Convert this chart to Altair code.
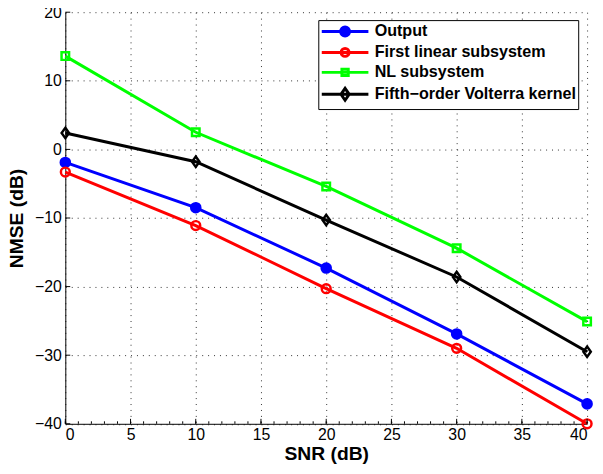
import altair as alt
import pandas as pd

snr = [0, 10, 20, 30, 40]
series_names = ["Output", "First linear subsystem", "NL subsystem",
                "Fifth\u2212order Volterra kernel"]
output_vals = [-1.9, -8.5, -17.3, -26.9, -37.1]
first_linear_vals = [-3.3, -11.1, -20.3, -29.0, -40.0]
nl_vals = [13.6, 2.5, -5.4, -14.4, -25.1]
fifth_vals = [2.4, -1.8, -10.3, -18.6, -29.5]

x_major = [0, 5, 10, 15, 20, 25, 30, 35, 40]
x_minor = [0, 1, 2, 3, 4, 5, 6, 7, 8, 9, 10, 11, 12, 13, 14, 15, 16, 17, 18, 19, 20,
           21, 22, 23, 24, 25, 26, 27, 28, 29, 30, 31, 32, 33, 34, 35, 36, 37, 38, 39, 40]
y_major = [-40, -30, -20, -10, 0, 10, 20]

colors = ["#0000ff", "#ff0000", "#00ff00", "#000000"]
fills = ["#0000ff", "transparent", "transparent", "transparent"]
plot_shapes = ["circle", "circle", "square", "M0,-1.4L1,0L0,1.4L-1,0Z"]
plot_sizes = [85, 80, 58, 56]
# legend glyphs: a line segment with the series marker in its middle (unit = 8 px)
legend_shapes = [
    "M-1,0L4.9,0M2.51,0A0.56,0.56,0,1,1,1.39,0A0.56,0.56,0,1,1,2.51,0Z",
    "M-1,0L4.9,0M2.45,0A0.5,0.5,0,1,1,1.45,0A0.5,0.5,0,1,1,2.45,0Z",
    "M-1,0L4.9,0M1.55,-0.4L2.35,-0.4L2.35,0.4L1.55,0.4Z",
    "M-1,0L4.9,0M1.95,-0.75L2.47,0L1.95,0.75L1.43,0Z",
]

rows = []
for name, vals in zip(series_names, [output_vals, first_linear_vals, nl_vals, fifth_vals]):
    for s, v in zip(snr, vals):
        rows.append({"snr": s, "nmse": v, "series": name})
df = pd.DataFrame(rows)

W, H = 528, 416.5
FONT = "Liberation Sans"

xscale = alt.Scale(domain=[0, 40], nice=False, zero=False)
yscale = alt.Scale(domain=[-40, 20], nice=False, zero=False)
color_scale = alt.Scale(domain=series_names, range=colors)
fill_scale = alt.Scale(domain=series_names, range=fills)
shape_scale = alt.Scale(domain=series_names, range=legend_shapes)


def leg():
    return alt.Legend(title=None, orient="none", legendX=256, legendY=8,
                      padding=2, strokeColor="black", fillColor="white",
                      labelFont=FONT, labelFontSize=16.3, labelFontWeight="bold",
                      labelColor="black", symbolSize=256, symbolStrokeWidth=3,
                      symbolOpacity=1, labelOffset=36, rowPadding=0.2,
                      cornerRadius=0, labelLimit=400)


x_enc = alt.X("snr:Q", scale=xscale, title="SNR (dB)",
              axis=alt.Axis(values=x_major, format="d", grid=True))
y_enc = alt.Y("nmse:Q", scale=yscale, title="NMSE (dB)",
              axis=alt.Axis(values=y_major, format="d", grid=True))

base = alt.Chart(df)

lines = base.mark_line(strokeWidth=3).encode(
    x=x_enc, y=y_enc,
    color=alt.Color("series:N", scale=color_scale, legend=leg()),
    detail="series:N",
)

point_layers = []
for name, col, fil, shp, sz in zip(series_names, colors, fills, plot_shapes, plot_sizes):
    point_layers.append(
        base.transform_filter(alt.datum.series == name).mark_point(
            filled=False, strokeWidth=2.5, opacity=1, shape=shp, size=sz,
            stroke=col, fill=fil, fillOpacity=1,
        ).encode(
            x=alt.X("snr:Q", scale=xscale),
            y=alt.Y("nmse:Q", scale=yscale),
        )
    )

legend_layer = base.mark_point(filled=False, strokeWidth=3, opacity=0).encode(
    x=alt.X("snr:Q", scale=xscale),
    y=alt.Y("nmse:Q", scale=yscale),
    color=alt.Color("series:N", scale=color_scale, legend=leg()),
    fill=alt.Fill("series:N", scale=fill_scale, legend=leg()),
    shape=alt.Shape("series:N", scale=shape_scale, legend=leg()),
)

xt_major = pd.DataFrame({"t": x_major})
xt_minor = pd.DataFrame({"t": x_minor})
yt_major = pd.DataFrame({"t": y_major})

xticks = alt.Chart(xt_major).mark_rule(color="black", strokeWidth=1).encode(
    x=alt.X("t:Q", scale=xscale), y=alt.value(H), y2=alt.value(H - 5))
xminor = alt.Chart(xt_minor).mark_rule(color="black", strokeWidth=1).encode(
    x=alt.X("t:Q", scale=xscale), y=alt.value(H), y2=alt.value(H - 2.5))
yticks = alt.Chart(yt_major).mark_rule(color="black", strokeWidth=1).encode(
    y=alt.Y("t:Q", scale=yscale), x=alt.value(0), x2=alt.value(5))

chart = alt.layer(lines, *point_layers, legend_layer, xticks, xminor, yticks).properties(
    width=W, height=H,
    autosize=alt.AutoSizeParams(type="none"),
    padding={"left": 58, "top": 1.5, "right": 8, "bottom": 44},
).configure_view(stroke=None).configure_axis(
    domainColor="black", domainWidth=1, ticks=False,
    labelFont=FONT, labelFontSize=16, labelColor="black", labelPadding=4,
    titleFont=FONT, titleFontSize=19.5, titleFontWeight="bold", titleColor="black",
    gridColor="#333333", gridDash=[1, 5], gridWidth=1, gridOpacity=1,
).configure_axisX(titlePadding=2, labelPadding=3).configure_axisY(titlePadding=8)

chart.save("out.html", embed_options={"renderer": "svg", "actions": False})
